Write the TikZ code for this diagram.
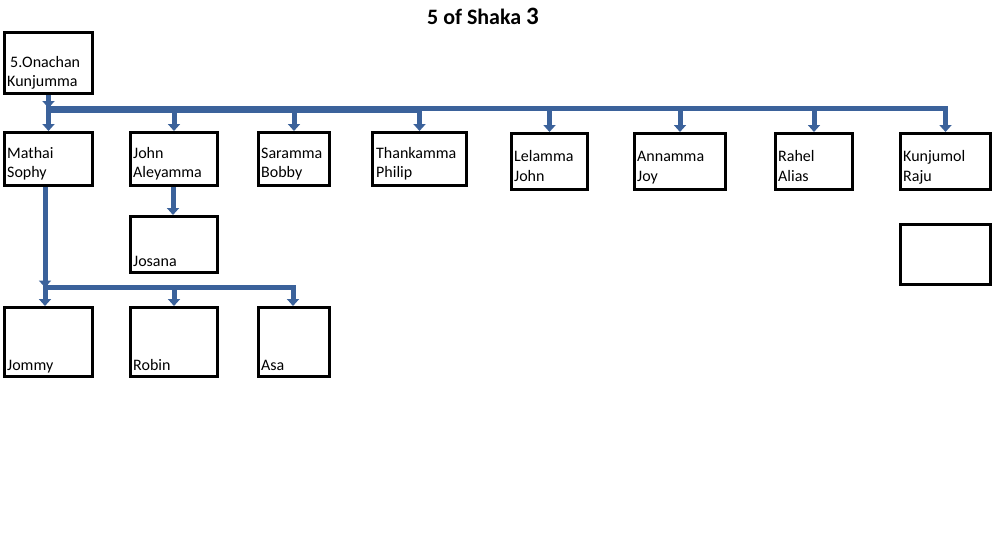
\documentclass[tikz,border=0pt]{standalone}
\usepackage{fontspec}
\setmainfont{Carlito}
\usetikzlibrary{arrows.meta}
\definecolor{connblue}{RGB}{59,98,155}
\begin{document}
\begin{tikzpicture}[x=1pt,y=-1pt,
  box/.style 2 args={draw=black, line width=3pt, minimum width=#1, minimum height=#2, inner sep=0pt},
  lbl/.style={anchor=base west, inner sep=0pt, font=\fontsize{16}{19}\selectfont},
  conn/.style={draw=connblue, line width=5pt, -{Triangle[width=12pt,length=7pt]}}]
\fill[white] (0,0) rectangle (1000,555);
\useasboundingbox (0,0) rectangle (1000,555);

\node[font=\bfseries\fontsize{22}{25}\selectfont, anchor=base, inner sep=0pt] (title) at (483,24) {5 of Shaka {\fontsize{25}{25}\selectfont 3}};

% boxes
\node[box={88}{61}] (on) at (48.5,63) {};
\node[box={88}{53}] (ma) at (48.5,159) {};
\node[box={87}{53}] (jo) at (174,159) {};
\node[box={71}{53}] (sa) at (294,159) {};
\node[box={94}{53}] (th) at (419.5,159) {};
\node[box={76}{56}] (le) at (549.5,161.5) {};
\node[box={91}{56}] (an) at (680,161.5) {};
\node[box={77}{56}] (ra) at (814,161.5) {};
\node[box={90}{56}] (ku) at (945.5,161.5) {};
\node[box={90}{60}] (em) at (945.5,254.5) {};
\node[box={87}{56}] (js) at (174,244.5) {};
\node[box={88}{69}] (jm) at (48.5,342) {};
\node[box={87}{69}] (rb) at (174,342) {};
\node[box={71}{69}] (as) at (294,342) {};

% labels
\node[lbl] (on1) at (10,67) {5.Onachan};
\node[lbl] (on2) at (7,86) {Kunjumma};
\node[lbl] (ma1) at (7,158) {Mathai};
\node[lbl] (ma2) at (7,177) {Sophy};
\node[lbl] (jo1) at (133,158) {John};
\node[lbl] (jo2) at (133,177) {Aleyamma};
\node[lbl] (sa1) at (261,158) {Saramma};
\node[lbl] (sa2) at (261,177) {Bobby};
\node[lbl] (th1) at (376,158) {Thankamma};
\node[lbl] (th2) at (376,177) {Philip};
\node[lbl] (le1) at (514,161) {Lelamma};
\node[lbl] (le2) at (514,181) {John};
\node[lbl] (an1) at (637,161) {Annamma};
\node[lbl] (an2) at (637,181) {Joy};
\node[lbl] (ra1) at (778,161) {Rahel};
\node[lbl] (ra2) at (778,181) {Alias};
\node[lbl] (ku1) at (903,161) {Kunjumol};
\node[lbl] (ku2) at (903,181) {Raju};
\node[lbl] (js1) at (133,266) {Josana};
\node[lbl] (jm1) at (7,370) {Jommy};
\node[lbl] (rb1) at (133,370) {Robin};
\node[lbl] (as1) at (261,370) {Asa};

% connectors from Onachan
\coordinate (barA) at (48.5,110.5);
\coordinate (barB) at (48.5,108);
\draw[conn] (on.south) -- (barB);
\foreach \c in {ma,jo,sa,th}
  \draw[conn] (on.south) -- (barA) -| (\c.north);
\foreach \c in {le,an,ra,ku}
  \draw[conn] (on.south) -- (barB) -| (\c.north);

% John -> Josana
\draw[conn] ([xshift=-1pt]jo.south) -- ([xshift=-1pt]js.north);

% Mathai -> children
\coordinate (mb) at (45,287.5);
\draw[conn] ([xshift=-3.5pt]ma.south) -- (mb);
\draw[conn] ([xshift=-3.5pt]ma.south) -- ([xshift=-3.5pt]jm.north);
\draw[conn] ([xshift=-3.5pt]ma.south) -- (mb) -| (rb.north);
\draw[conn] ([xshift=-3.5pt]ma.south) -- (mb) -| ([xshift=-1pt]as.north);
\end{tikzpicture}
\end{document}
